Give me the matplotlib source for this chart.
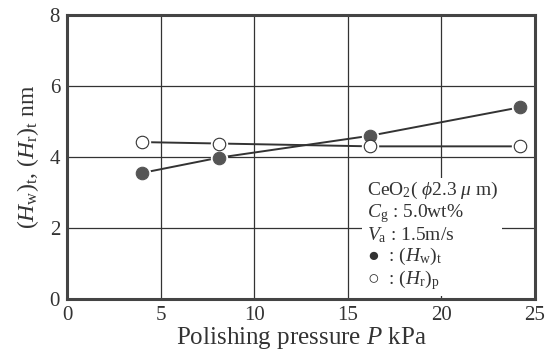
import matplotlib
matplotlib.use('Agg')
import matplotlib.pyplot as plt

plt.rcParams['font.family'] = ['Liberation Serif', 'DejaVu Sans']
plt.rcParams['mathtext.fontset'] = 'custom'
plt.rcParams['mathtext.rm'] = 'Liberation Serif'
plt.rcParams['mathtext.it'] = 'Liberation Serif:italic'

# polishing pressure P (kPa)
pressure = [4.0, 8.1, 16.2, 24.2]
# (Hw)t, filled circles
hw_t = [3.55, 3.98, 4.6, 5.4]
# (Hr)p, open circles
hr_p = [4.42, 4.38, 4.3, 4.3]

xticks = [0, 5, 10, 15, 20, 25]
yticks = [0, 2, 4, 6, 8]

fig = plt.figure(figsize=(5.54, 3.56), dpi=100)
ax = fig.add_axes([67 / 554, 1 - 299 / 356, (535 - 67) / 554, (299 - 15) / 356])

ax.set_xlim(0, 25)
ax.set_ylim(0, 8)
ax.set_xticks(xticks)
ax.set_yticks(yticks)
ax.grid(True, color='#333333', lw=0.9)
ax.set_axisbelow(True)
ax.tick_params(length=0, labelsize=15, colors='#333333', pad=5)
for s in ax.spines.values():
    s.set_linewidth(2.2)
    s.set_color('#444444')

ax.plot(pressure, hw_t, color='#333333', lw=1.4, zorder=3)
ax.plot(pressure, hr_p, color='#333333', lw=1.4, zorder=3)
ax.plot(pressure, hw_t, 'o', ms=10, mfc='#555555', mec='white', mew=2.5, zorder=4)
ax.plot(pressure, hw_t, 'o', ms=9, mfc='#555555', mec='#555555', mew=0.8, zorder=5)
ax.plot(pressure, hr_p, 'o', ms=10, mfc='white', mec='white', mew=2.5, zorder=4)
ax.plot(pressure, hr_p, 'o', ms=9, mfc='white', mec='#333333', mew=0.8, zorder=5)

ax.set_xlabel('Polishing pressure $P$ kPa', fontsize=18, color='#333333', labelpad=0)
ax.set_ylabel(r'$(H_{\rm w})_{\rm t}$, $(H_{\rm r})_{\rm t}$ nm', fontsize=17,
              color='#333333', labelpad=6)

info = (r'CeO$_2$( $\phi$2.3 $\mu$ m)' + '\n'
        r'$C_{\rm g}$ : 5.0wt%' + '\n'
        r'$V_{\rm a}$ : 1.5m/s' + '\n'
        '\u25cf  : ' + r'$(H_{\rm w})_{\rm t}$' + '\n'
        '\u25cb  : ' + r'$(H_{\rm r})_{\rm p}$')
ax.text(16.0, 3.35, info, fontsize=14, color='#333333', va='top', ha='left',
        linespacing=1.05, zorder=6,
        bbox=dict(facecolor='white', edgecolor='none', pad=3))

fig.savefig('out.png', dpi=100)
